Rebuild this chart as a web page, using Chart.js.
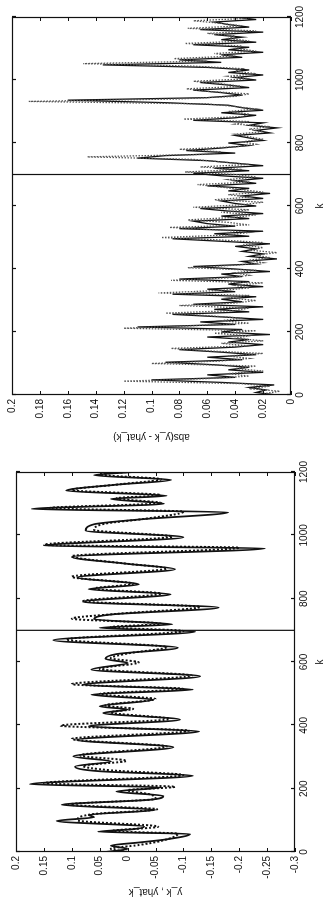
<!DOCTYPE html>
<html><head><meta charset="utf-8">
<script src="https://cdn.jsdelivr.net/npm/chart.js@4/dist/chart.umd.min.js"></script>
<style>
html,body{margin:0;padding:0;background:#fff;overflow:hidden;}
#page{position:absolute;left:0;top:0;width:898px;height:329px;transform-origin:0 0;transform:translateY(898px) rotate(-90deg);background:#fff;}
#c1{position:absolute;left:0;top:0;}
#c2{position:absolute;left:449px;top:0;}
</style></head><body>
<div id="page"><canvas id="c1" width="449" height="329"></canvas><canvas id="c2" width="449" height="329"></canvas></div>
<script>
// ---------- data ----------
const SPLIT_K = 700;
const kTicks = [0,200,400,600,800,1000,1200];

// y_k (solid)
const kY = [0,10,20,30,40,57,64,72,80,98,110,117,133,149,165,177,191,204,214,241,255,270,286,302,331,354,381,397,418,439,450,460,481,497,513,528,555,576,597,610,625,645,669,696,708,719,735,750,772,790,814,830,845,867,893,910,932,959,967,994,1015,1035,1050,1073,1083,1100,1115,1125,1141,1160,1175,1190,1200];
const yK = [0.04,0.0,0.03,-0.02,-0.07,-0.112,0.053,-0.01,-0.03,0.127,0.06,0.07,-0.05,0.118,-0.04,-0.064,0.02,-0.06,0.175,-0.117,0.05,0.094,0.03,0.097,-0.082,0.091,-0.128,0.07,-0.094,0.044,0.0,0.05,-0.046,0.065,-0.117,0.08,-0.13,0.065,0.0,0.04,0.02,-0.09,0.133,-0.121,0.05,-0.08,0.06,0.03,-0.163,0.08,-0.077,0.07,-0.02,0.09,-0.085,0.0,0.1,-0.246,0.15,-0.1,0.075,0.06,-0.02,-0.18,0.172,-0.065,0.03,-0.07,0.11,0.02,-0.078,0.06,-0.01];

// yhat_k (dotted)
const kH = [0,10,22,35,58,66,80,100,120,135,150,168,182,195,206,217,243,258,272,288,305,333,357,383,399,420,441,452,463,483,499,515,530,557,578,599,612,627,647,671,698,710,721,737,752,774,792,816,832,847,869,895,912,934,961,970,996,1017,1037,1052,1075,1086,1102,1117,1127,1143,1162,1177,1192,1200];
const yH = [0.0,0.03,-0.02,-0.06,-0.09,0.03,-0.055,0.09,0.06,-0.053,0.105,-0.05,-0.04,0.0,-0.085,0.15,-0.1,0.03,0.08,0.002,0.085,-0.07,0.1,-0.11,0.12,-0.075,0.03,-0.01,0.04,-0.05,0.05,-0.1,0.1,-0.115,0.05,-0.02,0.03,0.0,-0.07,0.11,-0.1,0.03,-0.06,0.1,0.02,-0.13,0.08,-0.06,0.06,-0.01,0.1,-0.07,0.01,0.1,-0.2,0.15,-0.08,0.06,0.04,-0.03,-0.1,0.14,-0.06,0.02,-0.06,0.1,0.01,-0.06,0.05,0.0];

// abs error, solid trace, k = 0, 8, 16, ... 1200
const err1 = [0.01,0.025,0.018,0.03,0.012,0.05,0.10,0.04,0.06,0.02,
0.045,0.03,0.055,0.09,0.035,0.06,0.025,0.05,0.08,0.04,
0.02,0.045,0.03,0.06,0.015,0.05,0.035,0.11,0.04,0.065,
0.02,0.05,0.085,0.03,0.055,0.02,0.07,0.035,0.05,0.025,
0.085,0.04,0.06,0.02,0.045,0.03,0.08,0.035,0.05,0.015,
0.04,0.07,0.025,0.035,0.01,0.03,0.02,0.035,0.025,0.04,
0.015,0.05,0.085,0.03,0.055,0.02,0.08,0.04,0.06,0.07,
0.03,0.05,0.02,0.045,0.065,0.025,0.04,0.05,0.02,0.035,
0.015,0.045,0.03,0.06,0.025,0.04,0.02,0.05,0.07,0.03,
0.055,0.02,0.04,0.06,0.11,0.09,0.04,0.075,0.05,0.03,
0.045,0.02,0.03,0.04,0.015,0.025,0.01,0.03,0.02,0.07,
0.04,0.025,0.05,0.02,0.035,0.045,0.09,0.16,0.06,0.035,
0.05,0.07,0.03,0.045,0.065,0.025,0.04,0.02,0.045,0.03,
0.06,0.135,0.05,0.08,0.035,0.05,0.02,0.045,0.03,0.07,
0.025,0.05,0.035,0.055,0.02,0.065,0.03,0.045,0.055,0.025,
0.04];
// abs error, dotted trace, k = 4, 12, 20, ... 1196
const err2 = [0.02,0.008,0.03,0.015,0.035,0.12,0.06,0.03,0.045,0.02,
0.04,0.025,0.1,0.05,0.03,0.045,0.02,0.06,0.086,0.03,
0.05,0.02,0.04,0.03,0.055,0.025,0.12,0.07,0.03,0.05,
0.035,0.06,0.09,0.04,0.03,0.08,0.04,0.025,0.045,0.03,
0.095,0.05,0.03,0.04,0.02,0.086,0.045,0.03,0.04,0.025,
0.074,0.04,0.02,0.03,0.015,0.025,0.01,0.03,0.02,0.035,
0.02,0.05,0.093,0.045,0.03,0.05,0.087,0.03,0.045,0.074,
0.04,0.025,0.05,0.03,0.07,0.035,0.02,0.055,0.03,0.045,
0.02,0.035,0.05,0.067,0.03,0.045,0.025,0.04,0.076,0.035,
0.065,0.03,0.05,0.07,0.146,0.06,0.05,0.08,0.04,0.025,
0.035,0.02,0.03,0.04,0.02,0.03,0.015,0.04,0.03,0.077,
0.035,0.03,0.045,0.025,0.04,0.06,0.188,0.08,0.04,0.03,
0.06,0.075,0.035,0.05,0.07,0.03,0.045,0.025,0.04,0.035,
0.07,0.149,0.06,0.084,0.04,0.055,0.025,0.04,0.035,0.076,
0.03,0.045,0.04,0.06,0.025,0.074,0.035,0.05,0.07,0.03];
const errK1 = err1.map((_, i) => i * 8);
const errK2 = err2.map((_, i) => 4 + i * 8);

// ---------- drawing ----------
const INK = '#111';
const FONT = {family: '"Liberation Sans", Arial, sans-serif', size: 10};
const zip = (xs, ys) => xs.map((x, i) => ({x: x, y: ys[i]}));
const fmt = v => String(Math.round(v * 1000) / 1000);

const boxTicks = {
  id: 'boxTicks',
  afterDatasetsDraw(chart) {
    const {ctx, chartArea: a, scales: {x, y}} = chart;
    const L = 4;
    ctx.save();
    ctx.strokeStyle = INK; ctx.lineWidth = 1.2;
    ctx.strokeRect(Math.round(a.left) + 0.5, Math.round(a.top) + 0.5, Math.round(a.right - a.left) - 1, Math.round(a.bottom - a.top) - 1);
    ctx.beginPath();
    x.ticks.forEach(t => {
      const p = Math.round(x.getPixelForValue(t.value)) + 0.5;
      ctx.moveTo(p, a.bottom); ctx.lineTo(p, a.bottom - L);
      ctx.moveTo(p, a.top); ctx.lineTo(p, a.top + L);
    });
    y.ticks.forEach(t => {
      const p = Math.round(y.getPixelForValue(t.value)) + 0.5;
      ctx.moveTo(a.left, p); ctx.lineTo(a.left + L, p);
      ctx.moveTo(a.right, p); ctx.lineTo(a.right - L, p);
    });
    ctx.stroke();
    ctx.restore();
  }
};

function makeOptions(cfg) {
  return {
    responsive: false, animation: false, devicePixelRatio: 1,
    layout: {padding: {top: cfg.top, right: cfg.right, left: 0, bottom: 0}},
    plugins: {legend: {display: false}, tooltip: {enabled: false}},
    elements: {point: {radius: 0}},
    scales: {
      x: {
        type: 'linear', min: 0, max: 1200,
        afterBuildTicks: s => { s.ticks = kTicks.map(v => ({value: v})); },
        ticks: {padding: 3, color: INK, font: FONT, maxRotation: 0, minRotation: 0, autoSkip: false, callback: v => String(v)},
        grid: {display: false, drawTicks: false},
        border: {display: false},
        title: {display: true, text: 'k', color: INK, font: FONT, padding: {top: 0, bottom: 3}},
        afterFit: s => { s.height = cfg.xh; }
      },
      y: {
        type: 'linear', min: cfg.ymin, max: cfg.ymax,
        ticks: {stepSize: cfg.step, padding: 4, color: INK, font: FONT, autoSkip: false, callback: v => fmt(v)},
        grid: {display: false, drawTicks: false},
        border: {display: false},
        title: {display: true, text: cfg.title, color: INK, font: FONT, padding: {top: cfg.tpad, bottom: 0}},
        afterFit: s => { s.width = cfg.yw; }
      }
    }
  };
}

new Chart(document.getElementById('c1'), {
  type: 'line',
  data: {datasets: [
    {label: 'y_k', data: zip(kY, yK), borderColor: INK, borderWidth: 1.8, pointRadius: 0, cubicInterpolationMode: 'monotone', fill: false},
    {label: 'yhat_k', data: zip(kH, yH), borderColor: INK, borderWidth: 2, borderDash: [2, 2], pointRadius: 0, cubicInterpolationMode: 'monotone', fill: false},
    {label: 'split', data: [{x: SPLIT_K, y: -0.3}, {x: SPLIT_K, y: 0.2}], borderColor: INK, borderWidth: 1.2, pointRadius: 0}
  ]},
  options: makeOptions({top: 16, right: 23, xh: 34, yw: 46, ymin: -0.3, ymax: 0.2, step: 0.05, title: 'y_k , yhat_k', tpad: 0}),
  plugins: [boxTicks]
});

new Chart(document.getElementById('c2'), {
  type: 'line',
  data: {datasets: [
    {label: 'err dotted', data: zip(errK2, err2), borderColor: '#555', borderWidth: 1.3, borderDash: [1.5, 1.5], pointRadius: 0, tension: 0},
    {label: 'err', data: zip(errK1, err1), borderColor: INK, borderWidth: 1.3, pointRadius: 0, tension: 0},
    {label: 'split', data: [{x: SPLIT_K, y: 0}, {x: SPLIT_K, y: 0.2}], borderColor: INK, borderWidth: 1.2, pointRadius: 0}
  ]},
  options: makeOptions({top: 12, right: 17, xh: 38, yw: 54, ymin: 0, ymax: 0.2, step: 0.02, title: 'abs(y_k - yhat_k)', tpad: 6}),
  plugins: [boxTicks]
});
</script></body></html>
